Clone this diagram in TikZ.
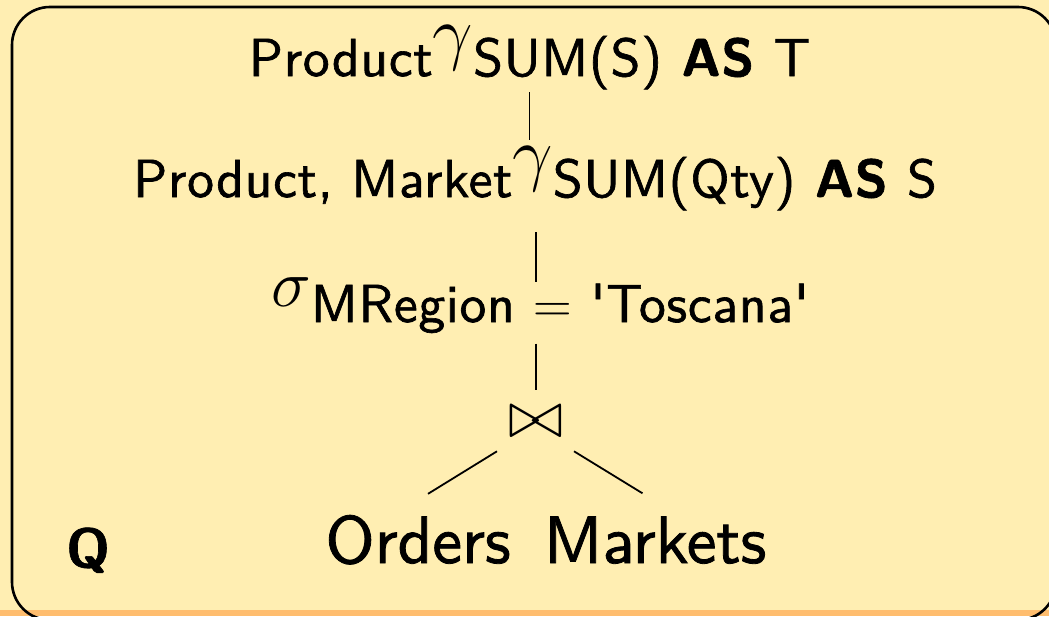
\RequirePackage{fix-cm}
\documentclass[tikz,border=0pt]{standalone}
\usepackage{fontspec}
\setsansfont{lmsans10-regular.otf}[BoldFont=lmsans10-bold.otf, FakeBold=1.2]
\newfontfamily\subsans{lmsans10-regular.otf}[BoldFont=lmsans10-bold.otf, FakeBold=1.2, LetterSpace=1.5]
\definecolor{paper}{RGB}{255,238,178}
\definecolor{band}{RGB}{255,189,110}
\newcommand\bigsz{\fontsize{67}{80}\selectfont}
\newcommand\opsz{\fontsize{72}{86}\selectfont}
\newcommand\subsz{\fontsize{53.5}{64}\selectfont}
\newcommand\oper[2]{\raisebox{#1}{\opsz$#2$}}
\newcommand\gap{\hspace{0.35em}}
\tikzset{
  expr/.style={anchor=base, inner sep=0pt, font=\subsans\subsz},
  leaf/.style={anchor=base, inner sep=0pt, font=\sffamily\bigsz},
  edge/.style={line width=1.8pt},
}
\begin{document}
\begin{tikzpicture}[x=1pt, y=-1pt]
\useasboundingbox (0,0) rectangle (1049,616);
% page background and footline band
\fill[paper] (0,0) rectangle (1049,616);
\fill[band] (0,610) rectangle (1049,616);
% block frame
\draw[line width=2.6pt, rounded corners=38pt] (12,7) rectangle (1056,620);

% query tree
\node[expr] (g1) at (529.5,76) {Product\oper{20pt}{\gamma}SUM(S)\gap\textbf{AS}\gap T};
\node[expr] (g2) at (535,197) {Product, Market\oper{20pt}{\gamma}SUM(Qty)\gap\textbf{AS}\gap S};
\node[expr] (sel) at (540,322) {\raisebox{16pt}{\bigsz$\sigma$}MRegion $=$ 'Toscana'};
\node[inner sep=0pt, font=\bigsz] (join) at (536,421.5) {$\bowtie$};
\node[leaf] (ord) at (418,563) {Orders};
\node[leaf] (mkt) at (655,563) {Markets};
\node[anchor=base west, inner sep=0pt, font=\sffamily\bfseries\fontsize{55}{64}\selectfont] (q) at (66,567) {Q};

\draw[edge] ([yshift=-2.5pt]g1.south) -- ([yshift=6pt]g1.south |- g2.north);
\draw[edge] ([yshift=-21.5pt]g2.south -| join) -- ([yshift=-5.3pt]sel.north -| join);
\draw[edge] ([yshift=-10.5pt]sel.south -| join) -- ([yshift=16pt]join.north);
\draw[edge] ([shift={(-39pt,-14pt)}]join.south) -- ([shift={(10pt,21pt)}]ord.north);
\draw[edge] ([shift={(38pt,-14pt)}]join.south) -- ([shift={(-12.5pt,23pt)}]mkt.north);
\end{tikzpicture}
\end{document}
